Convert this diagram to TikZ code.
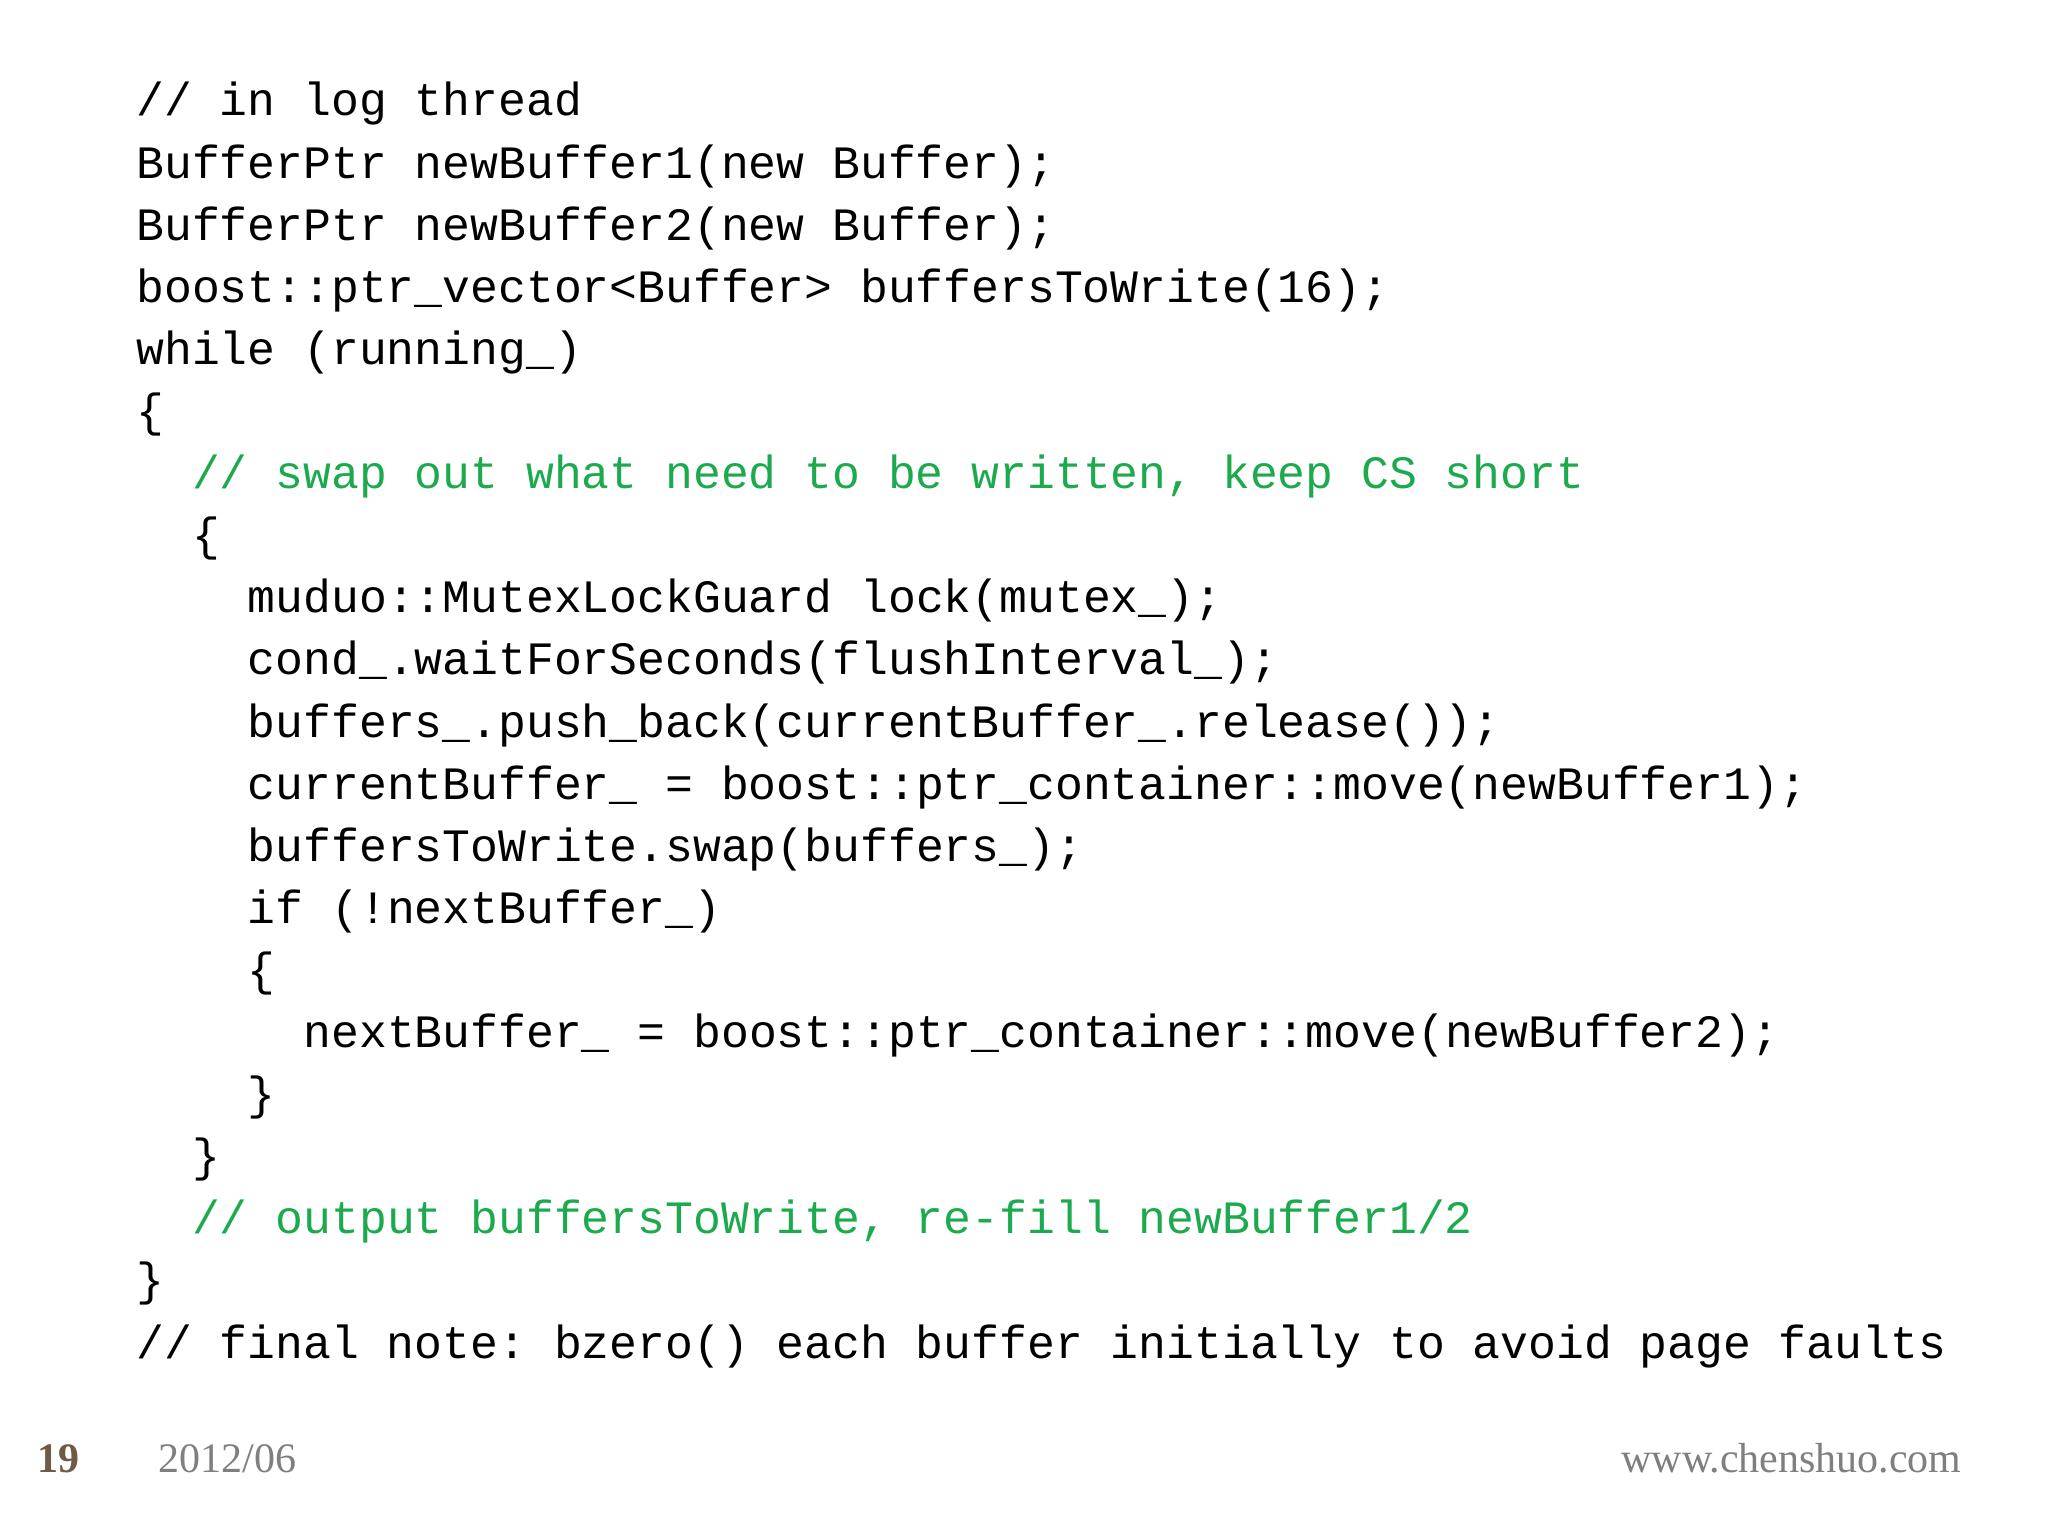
\documentclass[tikz,border=0pt]{standalone}
\usepackage{fontspec}
\setmonofont{Liberation Mono}
\setmainfont{Liberation Serif}
\definecolor{cgreen}{HTML}{1DAA4E}
\definecolor{fbrown}{HTML}{6E5A46}
\definecolor{fgray}{HTML}{7F7F7F}
\begin{document}
\begin{tikzpicture}[x=1pt,y=1pt,
  code/.style={anchor=base west,inner sep=0pt,font=\ttfamily\fontsize{23.2pt}{28pt}\selectfont,text=black},
  cmt/.style={code,text=cgreen},
  foot/.style={inner sep=0pt,anchor=base west,font=\fontsize{21pt}{25pt}\selectfont}]
\fill[white] (0,0) rectangle (1024,-768);
\useasboundingbox (0,0) rectangle (1024,-768);
\def\cw{13.93}\def\lh{31.05}
\newcommand\cl[4]{\node[#4] (#1) at ({68+\cw*#3},{-58-\lh*#2}) {#1text};}
\node[code] (l0) at ({68},{-58-\lh*0}) {// in log thread};
\node[code] (l1) at ({68},{-58-\lh*1}) {BufferPtr newBuffer1(new Buffer);};
\node[code] (l2) at ({68},{-58-\lh*2}) {BufferPtr newBuffer2(new Buffer);};
\node[code] (l3) at ({68},{-58-\lh*3}) {boost::ptr\_vector<Buffer> buffersToWrite(16);};
\node[code] (l4) at ({68},{-58-\lh*4}) {while (running\_)};
\node[code] (l5) at ({68},{-58-\lh*5}) {\{};
\node[cmt] (l6) at ({68+\cw*2},{-58-\lh*6}) {// swap out what need to be written, keep CS short};
\node[code] (l7) at ({68+\cw*2},{-58-\lh*7}) {\{};
\node[code] (l8) at ({68+\cw*4},{-58-\lh*8}) {muduo::MutexLockGuard lock(mutex\_);};
\node[code] (l9) at ({68+\cw*4},{-58-\lh*9}) {cond\_.waitForSeconds(flushInterval\_);};
\node[code] (l10) at ({68+\cw*4},{-58-\lh*10}) {buffers\_.push\_back(currentBuffer\_.release());};
\node[code] (l11) at ({68+\cw*4},{-58-\lh*11}) {currentBuffer\_ = boost::ptr\_container::move(newBuffer1);};
\node[code] (l12) at ({68+\cw*4},{-58-\lh*12}) {buffersToWrite.swap(buffers\_);};
\node[code] (l13) at ({68+\cw*4},{-58-\lh*13}) {if (!nextBuffer\_)};
\node[code] (l14) at ({68+\cw*4},{-58-\lh*14}) {\{};
\node[code] (l15) at ({68+\cw*6},{-58-\lh*15}) {nextBuffer\_ = boost::ptr\_container::move(newBuffer2);};
\node[code] (l16) at ({68+\cw*4},{-58-\lh*16}) {\}};
\node[code] (l17) at ({68+\cw*2},{-58-\lh*17}) {\}};
\node[cmt] (l18) at ({68+\cw*2},{-58-\lh*18}) {// output buffersToWrite, re-fill newBuffer1/2};
\node[code] (l19) at ({68},{-58-\lh*19}) {\}};
\node[code] (l20) at ({68},{-58-\lh*20}) {// final note: bzero() each buffer initially to avoid page faults};
\node[foot,text=fbrown,font=\bfseries\fontsize{21pt}{25pt}\selectfont] (pg) at (18.5,-736) {19};
\node[foot,text=fgray] (dt) at (79,-736) {2012/06};
\node[foot,text=fgray,anchor=base east] (url) at (981,-736) {www.chenshuo.com};
\end{tikzpicture}
\end{document}
